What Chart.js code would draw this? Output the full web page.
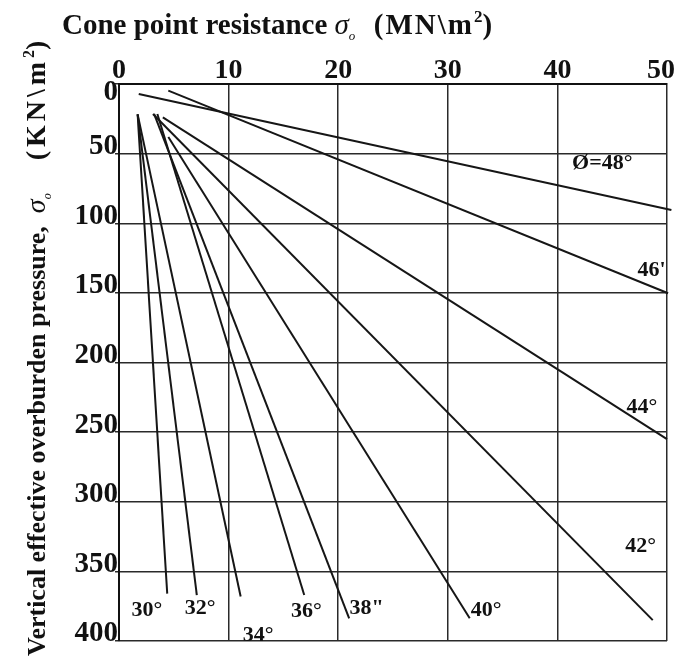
<!DOCTYPE html>
<html>
<head>
<meta charset="utf-8">
<script src="https://cdn.jsdelivr.net/npm/chart.js@4.4.1/dist/chart.umd.min.js"></script>
<style>
  html, body { margin: 0; padding: 0; background: #fff; }
</style>
</head>
<body>
<canvas id="chart" width="676" height="665"></canvas>
<script>
// friction angle lines, each from a start point to an end point (qc in MN/m2, sigma in kN/m2)
const angles  = ['30°', '32°', '34°', '36°', '38°', '40°', '42°', '44°', '46°', '48°'];
const startQc = [1.7, 1.7, 1.7, 3.5, 3.2, 4.5, 3.1, 4.0, 4.5, 1.8];
const startSv = [21.8, 21.8, 21.8, 21.5, 21.5, 38, 21.5, 24, 4.8, 7.2];
const endQc   = [4.4, 7.1, 11.1, 16.9, 21.0, 32.0, 48.7, 50.0, 50.1, 50.4];
const endSv   = [366, 367, 368, 367, 383.7, 383.7, 385, 255, 150.3, 90.5];

// angle labels placed in data units
const labelText = ['30°', '32°', '34°', '36°', '38"', '40°', '42°', '44°', "46'", 'Ø=48°'];
const labelQc   = [2.55, 7.4, 12.7, 17.1, 22.6, 33.5, 47.6, 47.7, 48.6, 44.1];
const labelSv   = [377.7, 376.5, 395.7, 379, 376.5, 377.7, 332, 232, 133.6, 57];

const xTicks = [0, 10, 20, 30, 40, 50];
const yTicks = [0, 50, 100, 150, 200, 250, 300, 350, 400];

const serif = '"Liberation Serif", "Times New Roman", serif';

const datasets = angles.map((a, i) => ({
    label: a,
    data: [{ x: startQc[i], y: startSv[i] }, { x: endQc[i], y: endSv[i] }],
    showLine: true,
    borderColor: '#161616',
    borderWidth: 2,
    pointRadius: 0,
    clip: false
}));

function drawRich(ctx, parts, x, y) {
    let cx = x;
    parts.forEach(p => {
        ctx.font = p.font;
        ctx.letterSpacing = p.ls || '0px';
        ctx.fillText(p.t, cx, y + (p.dy || 0));
        cx += ctx.measureText(p.t).width;
    });
    ctx.letterSpacing = '0px';
}

const annotate = {
    id: 'annotate',
    afterDatasetsDraw(chart) {
        const { ctx, scales: { x, y } } = chart;
        ctx.save();
        ctx.fillStyle = '#111';
        ctx.font = 'bold 22px ' + serif;
        ctx.textAlign = 'center';
        ctx.textBaseline = 'middle';
        labelText.forEach((t, i) => {
            ctx.fillText(t, x.getPixelForValue(labelQc[i]), y.getPixelForValue(labelSv[i]));
        });
        ctx.restore();
    },
    afterDraw(chart) {
        const { ctx, scales: { x, y } } = chart;
        ctx.save();
        ctx.fillStyle = '#111';

        // x tick labels across the top, kept inside the canvas
        ctx.font = 'bold 28px ' + serif;
        ctx.textAlign = 'center';
        ctx.textBaseline = 'alphabetic';
        xTicks.forEach(v => {
            const half = ctx.measureText(String(v)).width / 2;
            const px = Math.min(x.getPixelForValue(v), chart.width - half - 1);
            ctx.fillText(String(v), px, 78);
        });

        // y tick labels sit just above their grid line, the 0 just below the top
        ctx.font = 'bold 29px ' + serif;
        ctx.textAlign = 'right';
        ctx.textBaseline = 'middle';
        yTicks.forEach(v => {
            ctx.fillText(String(v), 118, y.getPixelForValue(v) + (v === 0 ? 9 : -7));
        });

        ctx.textAlign = 'left';
        ctx.textBaseline = 'alphabetic';
        // top title
        drawRich(ctx, [
            { t: 'Cone point resistance ', font: 'bold 29px ' + serif },
            { t: 'σ', font: 'italic 29px ' + serif },
            { t: 'o', font: 'italic 13px ' + serif, dy: 6 },
            { t: '  (MN\\m', font: 'bold 29px ' + serif, ls: '2px' },
            { t: '2', font: 'bold 17px ' + serif, dy: -12 },
            { t: ')', font: 'bold 29px ' + serif }
        ], 62, 34);
        // y title, rotated
        ctx.translate(45, 656);
        ctx.rotate(-Math.PI / 2);
        drawRich(ctx, [
            { t: 'Vertical effective overburden pressure,  ', font: 'bold 26px ' + serif },
            { t: 'σ', font: 'italic 28px ' + serif },
            { t: 'o', font: 'italic 12px ' + serif, dy: 6 },
            { t: '   (KN\\m', font: 'bold 28px ' + serif, ls: '4px' },
            { t: '2', font: 'bold 16px ' + serif, dy: -11 },
            { t: ')', font: 'bold 28px ' + serif }
        ], 0, 0);
        ctx.restore();
    }
};

new Chart(document.getElementById('chart'), {
    type: 'scatter',
    data: { datasets: datasets },
    plugins: [annotate],
    options: {
        responsive: false,
        animation: false,
        layout: { padding: { left: 0, right: 9, top: 0, bottom: 24 } },
        plugins: {
            legend: { display: false },
            tooltip: { enabled: false }
        },
        scales: {
            x: {
                type: 'linear',
                position: 'top',
                min: 0,
                max: 50,
                afterBuildTicks: s => { s.ticks = xTicks.map(v => ({ value: v })); },
                afterFit: s => { s.height = 84; s.paddingLeft = 0; s.paddingRight = 0; },
                ticks: { display: false },
                grid: { color: '#2a2a2a', lineWidth: 1.5, drawTicks: false },
                border: { color: '#111', width: 2 }
            },
            y: {
                type: 'linear',
                reverse: true,
                min: 0,
                max: 400,
                afterBuildTicks: s => { s.ticks = yTicks.map(v => ({ value: v })); },
                afterFit: s => { s.width = 119; s.paddingTop = 0; s.paddingBottom = 0; },
                ticks: { display: false },
                grid: { color: '#2a2a2a', lineWidth: 1.5, tickLength: 4 },
                border: { color: '#111', width: 2 }
            }
        }
    }
});
</script>
</body>
</html>
